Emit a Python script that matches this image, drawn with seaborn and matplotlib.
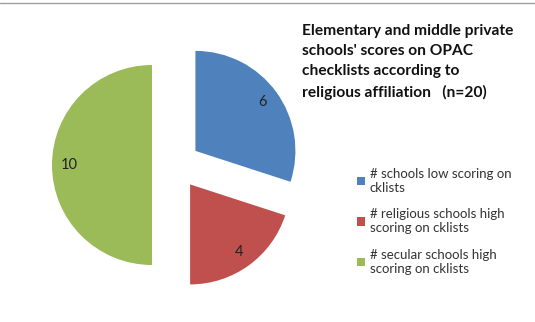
import matplotlib.pyplot as plt
from matplotlib.lines import Line2D
import numpy as np
import seaborn as sns

# data
categories = ['# schools low scoring on\ncklists',
              '# religious schools high\nscoring on cklists',
              '# secular schools high\nscoring on cklists']
counts = [6, 4, 10]
colors = ['#4F81BD', '#C0504D', '#9BBB59']
title = "Elementary and middle private\nschools' scores on OPAC\nchecklists according to\nreligious affiliation   (n=20)"

sns.set_theme(style='white')
plt.rcParams['font.family'] = ['Lato', 'DejaVu Sans']

fig = plt.figure(figsize=(5.35, 3.22), dpi=100)
# pie centre at about (176, 165) px, radius 100 px
ax = fig.add_axes([(176 - 130) / 535, (322 - 165 - 130) / 322, 260 / 535, 260 / 322])

wedges, texts = ax.pie(counts, colors=colors, startangle=90, counterclock=False,
                       explode=[0.24, 0.24, 0.24], radius=1.0,
                       wedgeprops=dict(linewidth=0))
# value labels inside each slice
for w, v in zip(wedges, counts):
    ang = np.deg2rad((w.theta1 + w.theta2) / 2)
    cx, cy = w.center
    ax.text(cx + 0.83 * np.cos(ang), cy + 0.83 * np.sin(ang), str(v),
            ha='center', va='center', fontsize=10.5, color='#222222')
ax.set_xlim(-1.3, 1.3)
ax.set_ylim(-1.3, 1.3)
ax.set_aspect('equal')
ax.axis('off')

fig.text(302 / 535, 1 - 24 / 322, title, ha='left', va='top', fontsize=11.2,
         fontweight='bold', linespacing=1.55, color='#111111')

leg = fig.legend(wedges, categories, loc='upper left',
                 bbox_to_anchor=(350 / 535, 1 - 161 / 322), frameon=False,
                 fontsize=9.5, handlelength=0.6, handleheight=0.6,
                 handletextpad=0.4, labelspacing=1.1, borderpad=0)
for t in leg.get_texts():
    t.set_color('#333333')

fig.add_artist(Line2D([0, 1], [1 - 3 / 322, 1 - 3 / 322], color='#A0A0A0', lw=1.0))

fig.savefig('out.png', dpi=100)
